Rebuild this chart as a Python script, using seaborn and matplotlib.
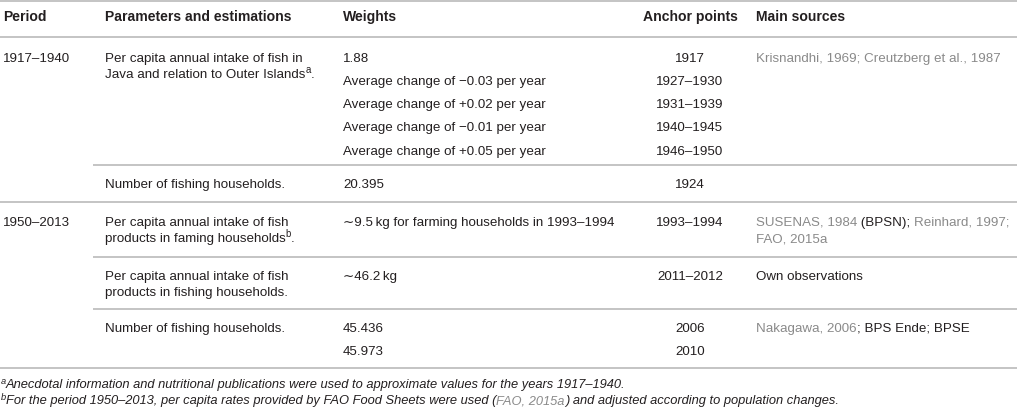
import matplotlib
matplotlib.use("Agg")
import matplotlib.pyplot as plt
import seaborn as sns

# ---------------- data ----------------
headers = ["Period", "Parameters and estimations", "Weights", "Anchor points", "Main sources"]

periods = ["1917\u20131940", "1950\u20132013"]

parameters = [
    ["Per capita annual intake of fish in", "Java and relation to Outer Islands"],
    ["Number of fishing households."],
    ["Per capita annual intake of fish", "products in faming households"],
    ["Per capita annual intake of fish", "products in fishing households."],
    ["Number of fishing households."],
]
param_notes = ["a", None, "b", None, None]

weights = [
    ["1.88",
     "Average change of \u22120.03 per year",
     "Average change of +0.02 per year",
     "Average change of \u22120.01 per year",
     "Average change of +0.05 per year"],
    ["20.395"],
    ["\u223c9.5\u2009kg for farming households in 1993\u20131994"],
    ["\u223c46.2\u2009kg"],
    ["45.436", "45.973"],
]

anchors = [
    ["1917", "1927\u20131930", "1931\u20131939", "1940\u20131945", "1946\u20131950"],
    ["1924"],
    ["1993\u20131994"],
    ["2011\u20132012"],
    ["2006", "2010"],
]

# each source line: list of (text, is_citation)
sources = [
    [[("Krisnandhi, 1969; Creutzberg et al., 1987", True)]],
    [],
    [[("SUSENAS, 1984", True), (" (BPSN); ", False), ("Reinhard, 1997;", True)],
     [("FAO, 2015a", True)]],
    [[("Own observations", False)]],
    [[("Nakagawa, 2006", True), ("; BPS Ende; BPSE", False)]],
]

footnote_a = [("a", "sup"), ("Anecdotal information and nutritional publications were used to approximate values for the years 1917\u20131940.", False)]
footnote_b = [("b", "sup"), ("For the period 1950\u20132013, per capita rates provided by FAO Food Sheets were used (", False),
              ("FAO, 2015a", True), (") and adjusted according to population changes.", False)]

# ---------------- layout / style ----------------
W, H = 1017, 410
DARK = "#231f20"
CITE = "#8a8a8a"
RULE = "#c4c4c4"
FS = 9.6
FS_HEAD = 10.1
FS_NOTE = 9.3

sns.set_theme(style="white")
plt.rcParams["font.family"] = ["Liberation Sans", "DejaVu Sans"]

fig = plt.figure(figsize=(W / 100, H / 100), dpi=100)
ax = fig.add_axes([0, 0, 1, 1])
ax.set_xlim(0, W)
ax.set_ylim(H, 0)
ax.axis("off")

col_x = [3, 105, 343, 690, 756]
header_y = 17.5
line_h_param = 16.5
line_h_weight = 23.3

row_top_y = [58, 184, 222, 276, 328]
row_period = [0, None, 1, None, None]

full_rules = [1.5, 37.5, 203, 369]
partial_rules = [166, 258, 310]


def base_y(y, fs):
    # convert a visual text centre to a baseline position (pixels)
    return y + 0.365 * fs


def put(x, y, s, fs=FS, **kw):
    return ax.text(x, base_y(y, fs), s, fontsize=fs, va="baseline", **kw)


def hrule(y, x0=0, x1=W):
    ax.plot([x0, x1], [y, y], color=RULE, lw=1.4, solid_capstyle="butt")


for y in full_rules:
    hrule(y)
for y in partial_rules:
    hrule(y, x0=93)


def chain(x, y, parts, fs=FS, style="normal"):
    """Draw text segments one after another on a common baseline."""
    by = base_y(y, fs)
    prev = None
    for text, kind in parts:
        is_sup = kind == "sup"
        color = CITE if kind is True else DARK
        size = fs * 0.72 if is_sup else fs
        yy = by - 4.8 if is_sup else by
        if prev is None:
            t = ax.text(x, yy, text, fontsize=size, color=color, style=style,
                        va="baseline", ha="left")
        else:
            t = ax.annotate(text, xy=(1, yy), xycoords=(prev, "data"), fontsize=size,
                            color=color, style=style, va="baseline", ha="left")
        prev = t
    return prev


# header
for i, h in enumerate(headers):
    put(col_x[i], header_y, h, fs=FS_HEAD, fontweight="bold", color=DARK,
        ha="center" if i == 3 else "left")

for r in range(len(parameters)):
    y0 = row_top_y[r]
    if row_period[r] is not None:
        put(col_x[0], y0, periods[row_period[r]], color=DARK)
    lines = parameters[r]
    for k, ln in enumerate(lines):
        y = y0 + k * line_h_param
        if k == len(lines) - 1 and param_notes[r]:
            chain(col_x[1], y, [(ln, False), (param_notes[r], "sup"), (".", False)])
        else:
            put(col_x[1], y, ln, color=DARK)
    for k, wv in enumerate(weights[r]):
        put(col_x[2], y0 + k * line_h_weight, wv, color=DARK)
    for k, av in enumerate(anchors[r]):
        put(col_x[3], y0 + k * line_h_weight, av, color=DARK, ha="center")
    for k, parts in enumerate(sources[r]):
        chain(col_x[4], y0 + k * line_h_param, parts)

chain(1, 385, footnote_a, fs=FS_NOTE, style="italic")
chain(1, 401, footnote_b, fs=FS_NOTE, style="italic")

fig.savefig("out.png", dpi=100)
